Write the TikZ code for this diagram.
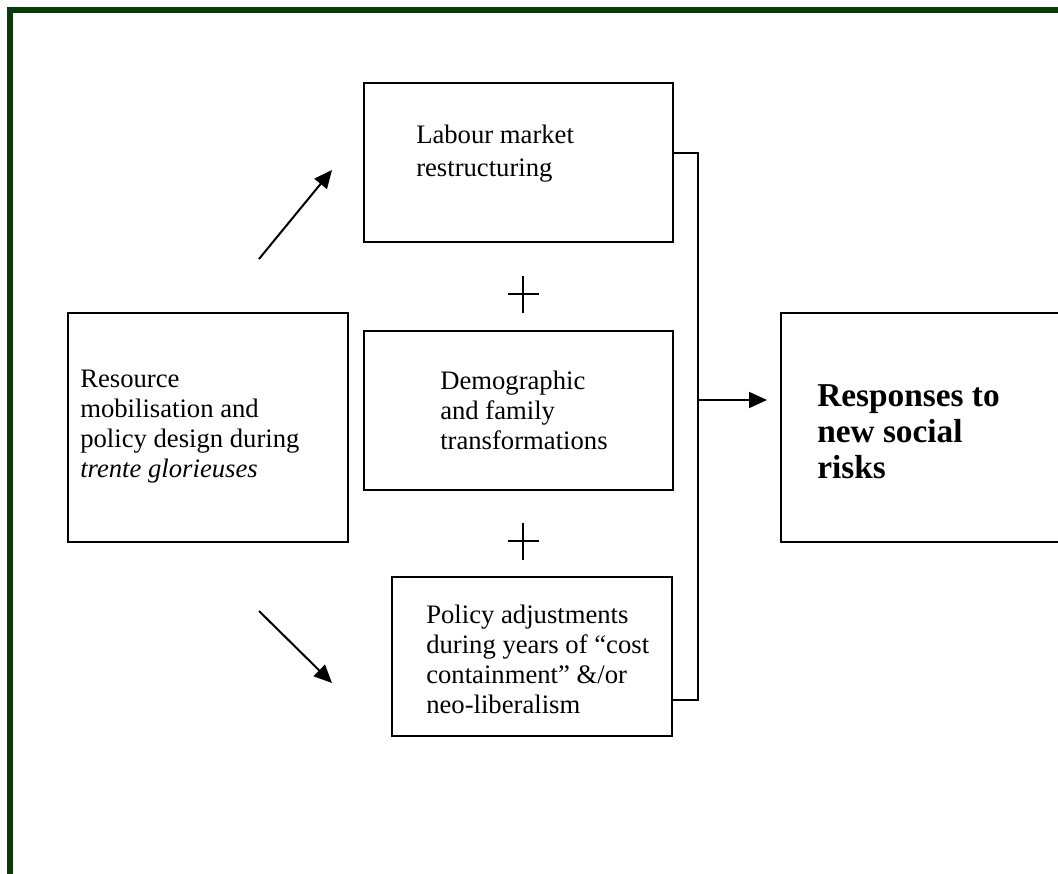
\documentclass[tikz,border=0pt]{standalone}
\usepackage{fontspec}
\setmainfont{Liberation Serif}
\usetikzlibrary{arrows.meta}
\definecolor{framegreen}{RGB}{10,58,10}
\tikzset{
  box/.style={draw=black,line width=1.5pt,rectangle,inner sep=0pt,anchor=north west},
  txt/.style={anchor=base west,inner sep=0pt,font=\fontsize{20}{24}\selectfont},
  btxt/.style={anchor=base west,inner sep=0pt,font=\fontsize{25}{30}\selectfont\bfseries},
  conn/.style={draw=black,line width=1.5pt},
  arr/.style={draw=black,line width=1.5pt,-{Triangle[length=13.5pt,width=12pt]}},
  plus/.style={draw=black,line width=1.2pt}
}
\begin{document}
\begin{tikzpicture}[x=0.75pt,y=-0.75pt]
\useasboundingbox (0,0) rectangle (1058,874);
% frame
\draw[framegreen,line width=3.8pt] (10,880) -- (10,10) -- (1070,10);
% boxes
\node[box,minimum width=309*0.75pt,minimum height=159*0.75pt] (lab) at (363,82) {};
\node[box,minimum width=309*0.75pt,minimum height=159*0.75pt] (dem) at (363,330) {};
\node[box,minimum width=280*0.75pt,minimum height=159*0.75pt] (pol) at (391,576) {};
\node[box,minimum width=280*0.75pt,minimum height=229*0.75pt] (res) at (67,312) {};
\node[box,minimum width=300*0.75pt,minimum height=229*0.75pt] (out) at (780,312) {};
% texts
\node[txt] (lab1) at (416,144) {Labour market};
\node[txt] (lab2) at (416,176) {restructuring};
\node[txt] (dem1) at (440,389) {Demographic};
\node[txt] (dem2) at (440,419) {and family};
\node[txt] (dem3) at (440,449) {transformations};
\node[txt] (pol1) at (426,623) {Policy adjustments};
\node[txt] (pol2) at (426,653) {during years of ``cost};
\node[txt] (pol3) at (426,683) {containment'' \&/or};
\node[txt] (pol4) at (426,713) {neo-liberalism};
\node[txt] (res1) at (80,387) {Resource};
\node[txt] (res2) at (80,417) {mobilisation and};
\node[txt] (res3) at (80,447) {policy design during};
\node[txt] (res4) at (80,477) {\itshape trente glorieuses};
\node[btxt] (out1) at (817,406) {Responses to};
\node[btxt] (out2) at (817,442) {new social};
\node[btxt] (out3) at (817,478) {risks};
% connector bracket
\coordinate (jt) at (698,153);
\coordinate (jb) at (698,700);
\coordinate (jm) at (698,400);
\coordinate (ae) at (767,400);
\draw[conn] (lab.east |- jt) -- (jt) -- (jb) -- (pol.east |- jb);
\draw[arr] (jm) -- (ae);
% diagonal arrows
\coordinate (a1s) at (259,259);
\coordinate (a1e) at (332,170);
\coordinate (a2s) at (259,611);
\coordinate (a2e) at (332,683);
\draw[arr] (a1s) -- (a1e);
\draw[arr] (a2s) -- (a2e);
% plus signs
\coordinate (p1) at (523,294);
\coordinate (p2) at (523,541);
\draw[plus] ([xshift=-15.5*0.75pt]p1) -- ([xshift=15.5*0.75pt]p1);
\draw[plus] ([yshift=18.5*0.75pt]p1) -- ([yshift=-18.5*0.75pt]p1);
\draw[plus] ([xshift=-15.5*0.75pt]p2) -- ([xshift=15.5*0.75pt]p2);
\draw[plus] ([yshift=18.5*0.75pt]p2) -- ([yshift=-18.5*0.75pt]p2);
\end{tikzpicture}
\end{document}
